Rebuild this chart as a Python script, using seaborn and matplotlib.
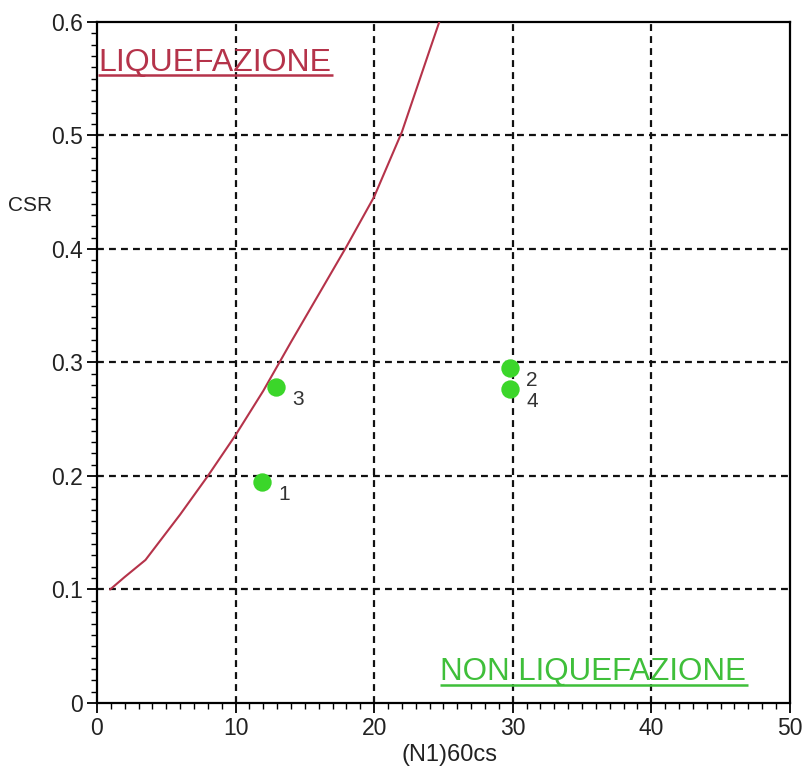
import matplotlib
matplotlib.use("Agg")
import matplotlib.pyplot as plt
import seaborn as sns
import pandas as pd
from matplotlib.ticker import MultipleLocator

# ---- data ----
curve_n = [0.95, 2, 3.5, 6, 8, 10, 12, 14, 16, 18, 20, 22, 24, 24.7]
curve_csr = [0.100, 0.111, 0.126, 0.166, 0.200, 0.236, 0.275, 0.318, 0.360, 0.402, 0.446, 0.503, 0.575, 0.600]

point_labels = ["1", "2", "3", "4"]
point_n = [11.9, 29.8, 12.9, 29.8]
point_csr = [0.195, 0.295, 0.278, 0.277]

x_ticks = [0, 10, 20, 30, 40, 50]
y_ticks = [0, 0.1, 0.2, 0.3, 0.4, 0.5, 0.6]
y_tick_labels = ["0", "0.1", "0.2", "0.3", "0.4", "0.5", "0.6"]

sns.set_theme(style="white")
plt.rcParams["font.family"] = ["Liberation Sans", "DejaVu Sans"]

fig = plt.figure(figsize=(8.06, 7.72), dpi=100)
ax = fig.add_axes([0.1203, 0.0894, 0.8597, 0.8821])

curve_df = pd.DataFrame({"n": curve_n, "csr": curve_csr})
pts_df = pd.DataFrame({"n": point_n, "csr": point_csr, "lab": point_labels})

# grid
grid_ls = (0, (3.1, 2.3))
for xv in x_ticks[1:-1]:
    ax.axvline(xv, color="#111111", lw=1.6, ls=grid_ls, zorder=1)
for yv in y_ticks[1:-1]:
    ax.axhline(yv, color="#111111", lw=1.6, ls=grid_ls, zorder=1)

sns.lineplot(data=curve_df, x="n", y="csr", ax=ax, color="#b5334a", lw=1.5,
             sort=False, zorder=3)
sns.scatterplot(data=pts_df, x="n", y="csr", ax=ax, color="#3bd62a", s=175,
                edgecolor="#3bd62a", linewidth=0, zorder=4)
for _, r in pts_df.iterrows():
    ax.annotate(r["lab"], (r["n"], r["csr"]), xytext=(16, -9),
                textcoords="offset points", fontsize=15, color="#333333",
                ha="center", va="center", zorder=5)

ax.set_xlim(0, 50)
ax.set_ylim(0, 0.6)
ax.set_xticks(x_ticks)
ax.set_xticklabels([str(v) for v in x_ticks])
ax.set_yticks(y_ticks)
ax.set_yticklabels(y_tick_labels)
ax.xaxis.set_minor_locator(MultipleLocator(1))
ax.yaxis.set_minor_locator(MultipleLocator(0.01))
ax.tick_params(axis="both", which="major", direction="out", length=7, width=1.3,
               colors="black", labelsize=16.5, labelcolor="#222222", pad=3,
               bottom=True, left=True)
ax.tick_params(axis="both", which="minor", direction="out", length=4, width=1.0,
               colors="black", bottom=True, left=True)
for s in ax.spines.values():
    s.set_visible(True)
    s.set_color("black")
    s.set_linewidth(1.6)

ax.set_xlabel("(N1)60cs", fontsize=17, color="#222222")
ax.xaxis.set_label_coords(0.509, -0.076)
ax.xaxis.label.set_va("center")
ax.set_ylabel("CSR", fontsize=15, color="#222222", rotation=0, va="center", ha="center")
ax.yaxis.set_label_coords(-0.097, 0.731)

# region labels with underline
red = "#b5334a"
green = "#3fbf3a"
ax.text(0.002, 0.928, "LIQUEFAZIONE", transform=ax.transAxes, fontsize=23,
        color=red, ha="left", va="baseline", zorder=5)
ax.plot([0.002, 0.341], [0.9225, 0.9225], transform=ax.transAxes, color=red, lw=1.8,
        zorder=5, solid_capstyle="butt")
ax.text(0.495, 0.034, "NON LIQUEFAZIONE", transform=ax.transAxes, fontsize=22.5,
        color=green, ha="left", va="baseline", zorder=5)
ax.plot([0.495, 0.939], [0.026, 0.026], transform=ax.transAxes, color=green, lw=1.8,
        zorder=5, solid_capstyle="butt")

fig.savefig("out.png", dpi=100)
